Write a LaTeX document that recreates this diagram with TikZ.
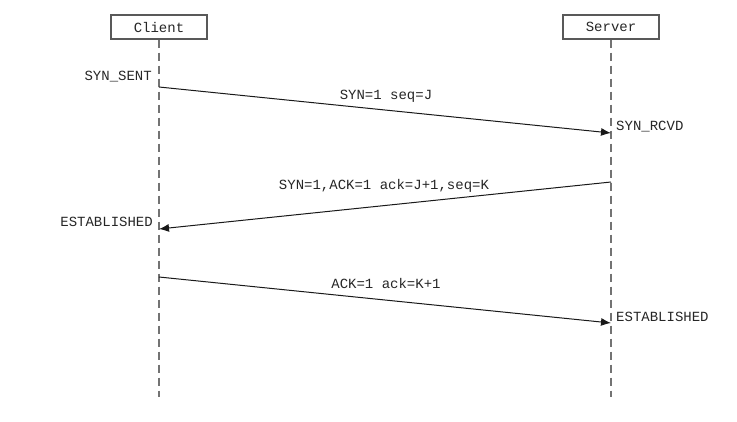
\documentclass[tikz,border=0pt]{standalone}
\usepackage{fontspec}
\setmonofont{Liberation Mono}
\usetikzlibrary{arrows.meta}
\begin{document}
\begin{tikzpicture}[
    x=1pt, y=-1pt,
    actor/.style={draw=black!65, line width=1.2pt, minimum width=96pt, minimum height=24pt, inner sep=0pt, font=\ttfamily\fontsize{14}{14}\selectfont, text=black!85},
    life/.style={draw=black!55, line width=1.3pt, dash pattern=on 8pt off 5pt},
    msg/.style={-{Latex[length=10pt,width=8pt]}, line width=1pt, draw=black!90},
    mlabel/.style={font=\ttfamily\fontsize{14}{14}\selectfont, text=black!85, inner sep=1pt},
    state/.style={font=\ttfamily\fontsize{14}{14}\selectfont, text=black!85, inner sep=1pt},
]
\useasboundingbox (0,0) rectangle (737,421);

\node[actor] (client) at (159,27) {Client};
\node[actor] (server) at (611,27) {Server};

% lifelines
\coordinate (clientend) at (159,397);
\coordinate (serverend) at (611,397);
\draw[life] (client.south) -- (clientend);
\draw[life] (server.south) -- (serverend);

% message points
\coordinate (c1) at (159,87);
\coordinate (s1) at (611,133);
\coordinate (s2) at (611,182);
\coordinate (c2) at (159,229);
\coordinate (c3) at (159,277);
\coordinate (s3) at (611,323);

\draw[msg] (c1) -- (s1);
\draw[msg] (s2) -- (c2);
\draw[msg] (c3) -- (s3);

% message labels
\node[mlabel] (m1) at (386,96) {SYN=1 seq=J};
\node[mlabel] (m2) at (384,186) {SYN=1,ACK=1 ack=J+1,seq=K};
\node[mlabel] (m3) at (386,283) {ACK=1 ack=K+1};

% states
\node[state, anchor=east] (synsent) at (153,77) {SYN\_SENT};
\node[state, anchor=west] (synrcvd) at (615,127) {SYN\_RCVD};
\node[state, anchor=east] (estcl) at (154,222) {ESTABLISHED};
\node[state, anchor=west] (estsv) at (615,317) {ESTABLISHED};
\end{tikzpicture}
\end{document}
